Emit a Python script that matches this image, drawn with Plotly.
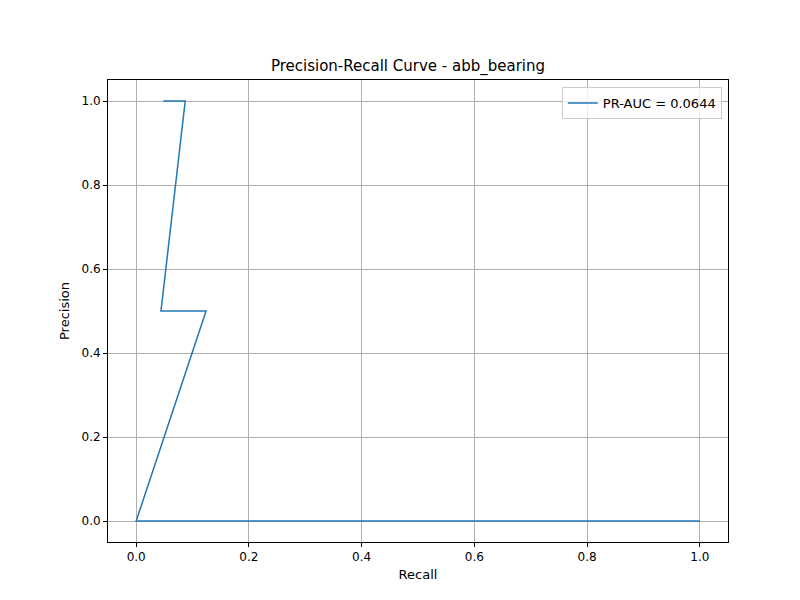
import plotly.graph_objects as go

# --- PR curve points ---
recall = [0.048, 0.087, 0.044, 0.124, 0.0, 1.0]
precision = [1.0, 1.0, 0.5, 0.5, 0.0, 0.0]
label = "PR-AUC = 0.0644"

fig = go.Figure()
fig.add_trace(go.Scatter(x=recall, y=precision, mode="lines", name=label,
                         line=dict(color="#1f77b4", width=1.5)))

axis_style = dict(showgrid=True, gridcolor="#b0b0b0", gridwidth=0.8,
                  zeroline=False, showline=True, linecolor="black", mirror=True,
                  ticks="outside", tickcolor="black", ticklen=4,
                  tickformat=".1f", dtick=0.2, automargin=False)

fig.update_layout(
    width=800, height=600,
    paper_bgcolor="white", plot_bgcolor="white",
    font=dict(family="DejaVu Sans", size=12, color="black"),
    title=dict(text="Precision-Recall Curve - abb_bearing", x=0.5, xanchor="center",
               y=0.903, yanchor="middle", font=dict(size=15)),
    margin=dict(l=100, r=80, t=72, b=66),
    xaxis=dict(title=dict(text="Recall", standoff=6, font=dict(size=13)),
               range=[-0.05, 1.05], **axis_style),
    yaxis=dict(title=dict(text="Precision", standoff=8, font=dict(size=13)),
               range=[-0.05, 1.05], **axis_style),
    showlegend=True,
    legend=dict(x=0.99, y=0.985, xanchor="right", yanchor="top",
                bgcolor="rgba(255,255,255,0.8)", bordercolor="#cccccc", borderwidth=1,
                font=dict(size=13)),
)

fig.write_html("out.html")
